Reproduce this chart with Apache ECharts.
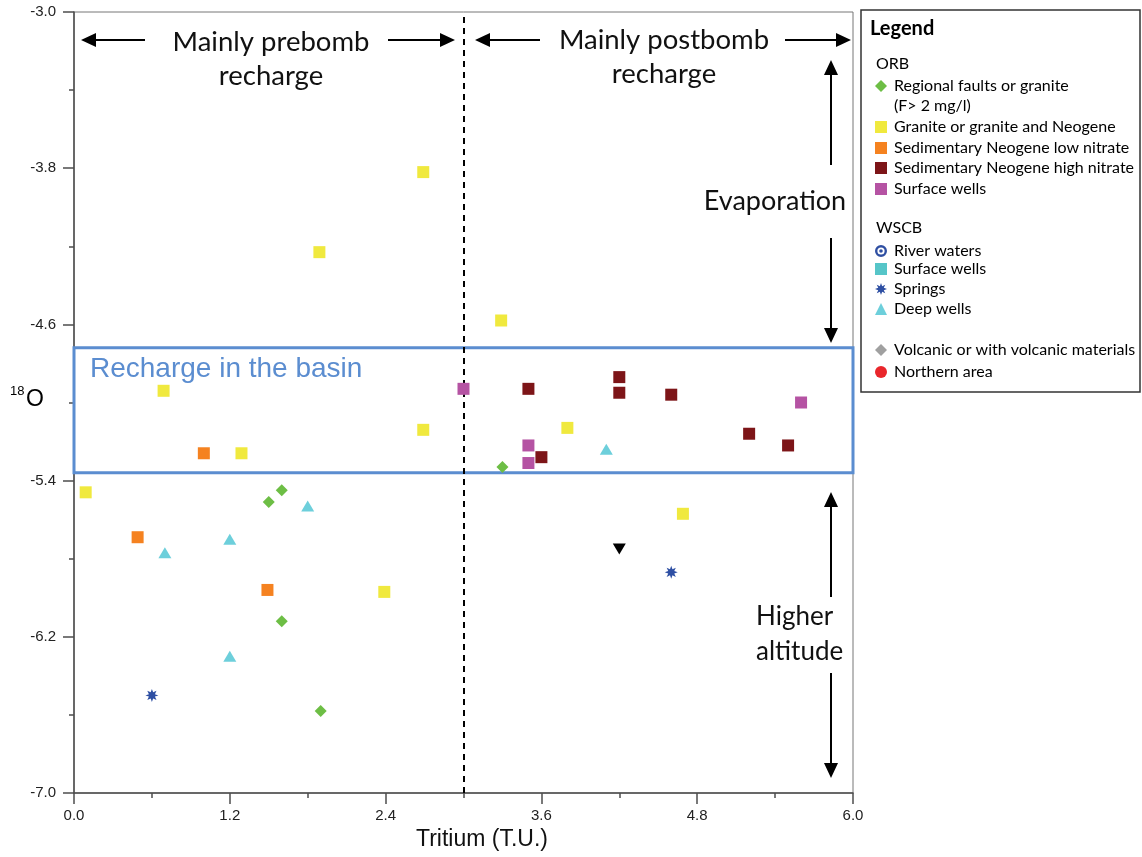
<!DOCTYPE html>
<html>
<head>
<meta charset="utf-8">
<script src="https://cdn.jsdelivr.net/npm/echarts@6/dist/echarts.min.js"></script>
<style>
  html, body { margin: 0; padding: 0; background: #fff; }
  #chart { width: 1142px; height: 857px; }
</style>
</head>
<body>
<div id="chart"></div>
<script>
// Tritium content vs. oxygen-18 of groundwater samples (ORB and WSCB basins)

// Axis ticks
const xTicks = [0.0, 1.2, 2.4, 3.6, 4.8, 6.0];
const yTicks = [-7.0, -6.2, -5.4, -4.6, -3.8, -3.0];
const yMinorTicks = [-6.6, -5.8, -5.0, -4.2, -3.4];

// ORB samples: [tritium (T.U.), 18O]
const regionalFaults = [[3.3, -5.33], [1.6, -5.45], [1.5, -5.51], [1.6, -6.12], [1.9, -6.58]];
const granite = [[2.69, -3.82], [1.89, -4.23], [3.29, -4.58], [0.69, -4.94], [2.69, -5.14],
                 [1.29, -5.26], [3.8, -5.13], [0.09, -5.46], [4.69, -5.57], [2.39, -5.97]];
const sedLowNitrate = [[1.0, -5.26], [0.49, -5.69], [1.49, -5.96]];
const sedHighNitrate = [[3.5, -4.93], [4.2, -4.87], [4.2, -4.95], [4.6, -4.96],
                        [5.2, -5.16], [5.5, -5.22], [3.6, -5.28]];
const orbSurfaceWells = [[3.0, -4.93], [5.6, -5.0], [3.5, -5.22], [3.5, -5.31]];

// WSCB samples
const riverWaters = [];
const wscbSurfaceWells = [];
const springs = [[0.6, -6.5], [4.6, -5.87]];
const deepWells = [[4.1, -5.24], [1.8, -5.53], [1.2, -5.70], [0.7, -5.77], [1.2, -6.30]];

// Other groups
const volcanic = [];
const northernArea = [];
const unclassified = [[4.2, -5.75]];

// Reference features
const prePostBoundary = 3.0;            // T.U.
const basinRechargeBand = [-4.72, -5.36]; // 18O range

// ---- symbols ----
function starPath(points, rOuter, rInner) {
  let d = '';
  for (let i = 0; i < points * 2; i++) {
    const r = i % 2 === 0 ? rOuter : rInner;
    const a = Math.PI * i / points - Math.PI / 2;
    d += (i === 0 ? 'M' : 'L') + (r * Math.cos(a)).toFixed(3) + ',' + (r * Math.sin(a)).toFixed(3);
  }
  return 'path://' + d + 'Z';
}
const asterisk = starPath(8, 10, 5);
const ring = 'path://M0,-10A10,10,0,1,1,0,10A10,10,0,1,1,0,-10Z' +
             'M0,-6A6,6,0,1,0,0,6A6,6,0,1,0,0,-6Z' +
             'M0,-3A3,3,0,1,1,0,3A3,3,0,1,1,0,-3Z';

const seriesDefs = [
  { name: 'Regional faults or granite (F> 2 mg/l)', data: regionalFaults, symbol: 'diamond', size: 12, color: '#6dbe45' },
  { name: 'Granite or granite and Neogene', data: granite, symbol: 'rect', size: 12, color: '#f0e93e' },
  { name: 'Sedimentary Neogene low nitrate', data: sedLowNitrate, symbol: 'rect', size: 12, color: '#f58220' },
  { name: 'Sedimentary Neogene high nitrate', data: sedHighNitrate, symbol: 'rect', size: 12, color: '#7d1518' },
  { name: 'Surface wells (ORB)', data: orbSurfaceWells, symbol: 'rect', size: 12, color: '#b553a3' },
  { name: 'River waters', data: riverWaters, symbol: ring, size: 12, color: '#2f4fa2' },
  { name: 'Surface wells (WSCB)', data: wscbSurfaceWells, symbol: 'rect', size: 12, color: '#56c5c8' },
  { name: 'Springs', data: springs, symbol: asterisk, size: 13, color: '#2e4fa3' },
  { name: 'Deep wells', data: deepWells, symbol: 'triangle', size: [13, 11], color: '#6dcfdb' },
  { name: 'Volcanic or with volcanic materials', data: volcanic, symbol: 'diamond', size: 12, color: '#a0a0a0' },
  { name: 'Northern area', data: northernArea, symbol: 'circle', size: 12, color: '#e9262b' },
  { name: 'Other', data: unclassified, symbol: 'triangle', size: [13, 11], color: '#000000', rotate: 180 }
];

// legend rows: series name, displayed text, row centre (px)
const legendRows = [
  ['Regional faults or granite (F> 2 mg/l)', 'Regional faults or granite', 86],
  ['Granite or granite and Neogene', 'Granite or granite and Neogene', 127],
  ['Sedimentary Neogene low nitrate', 'Sedimentary Neogene low nitrate', 148],
  ['Sedimentary Neogene high nitrate', 'Sedimentary Neogene high nitrate', 168],
  ['Surface wells (ORB)', 'Surface wells', 189],
  ['River waters', 'River waters', 251],
  ['Surface wells (WSCB)', 'Surface wells', 269],
  ['Springs', 'Springs', 289],
  ['Deep wells', 'Deep wells', 309],
  ['Volcanic or with volcanic materials', 'Volcanic or with volcanic materials', 350],
  ['Northern area', 'Northern area', 372]
];

const legends = legendRows.map(([name, text, cy]) => ({
  data: [name],
  left: 875,
  top: cy - 10,
  padding: 0,
  itemWidth: 12,
  itemHeight: 12,
  selectedMode: false,
  formatter: () => text,
  textStyle: { fontFamily: 'Lato', fontSize: 16, color: '#000', lineHeight: 20, padding: [0, 0, 0, 2] }
}));

const series = seriesDefs.map(d => ({
  name: d.name,
  type: 'scatter',
  data: d.data,
  symbol: d.symbol,
  symbolSize: d.size,
  symbolRotate: d.rotate || 0,
  itemStyle: { color: d.color, opacity: 1 },
  z: 5
}));

// dashed prebomb/postbomb boundary and basin recharge band
series.push({
  type: 'scatter',
  data: [],
  silent: true,
  z: 3,
  markLine: {
    silent: true,
    symbol: 'none',
    label: { show: false },
    lineStyle: { color: '#000', width: 2, type: [6, 5] },
    data: [{ xAxis: prePostBoundary }]
  },
  markArea: {
    silent: true,
    itemStyle: { color: 'rgba(0,0,0,0)', borderColor: '#5b8dd0', borderWidth: 3 },
    label: { show: false },
    data: [[{ xAxis: xTicks[0], yAxis: basinRechargeBand[0] },
            { xAxis: xTicks[xTicks.length - 1], yAxis: basinRechargeBand[1] }]]
  }
});

// ---- annotations ----
function arrow(x1, y1, x2, y2) {
  const dx = x2 - x1, dy = y2 - y1, len = Math.hypot(dx, dy);
  const ux = dx / len, uy = dy / len, hl = 15, hw = 7;
  const bx = x2 - ux * hl, by = y2 - uy * hl;
  return [
    { type: 'line', z: 50, shape: { x1: x1, y1: y1, x2: bx, y2: by }, style: { stroke: '#000', lineWidth: 2 } },
    { type: 'polygon', z: 50, shape: { points: [[x2, y2], [bx - uy * hw, by + ux * hw], [bx + uy * hw, by - ux * hw]] }, style: { fill: '#000' } }
  ];
}
function label(text, x, y, size, opts) {
  opts = opts || {};
  return {
    type: 'text', z: 50, x: x, y: y,
    style: {
      text: text,
      font: (opts.weight || 'normal') + ' ' + size + 'px ' + (opts.family || 'Lato'),
      fill: opts.color || '#111',
      align: opts.align || 'center',
      verticalAlign: 'middle'
    }
  };
}

const graphic = [
  // legend frame
  { type: 'rect', z: 1, shape: { x: 861, y: 10, width: 279, height: 382 },
    style: { fill: '#fff', stroke: '#333', lineWidth: 1.5 } },
  label('Legend', 870, 29, 20, { weight: 'bold', align: 'left', color: '#000' }),
  label('ORB', 876, 64, 16, { align: 'left', color: '#000' }),
  label('(F> 2 mg/l)', 894, 106, 16, { align: 'left', color: '#000' }),
  label('WSCB', 876, 228, 16, { align: 'left', color: '#000' }),

  // region titles
  label('Mainly prebomb', 271, 42, 27.5),
  label('recharge', 271, 76, 27.5),
  label('Mainly postbomb', 664, 40, 27.5),
  label('recharge', 664, 74, 27.5),
  ...arrow(145, 40, 81, 40),
  ...arrow(388, 40, 455, 40),
  ...arrow(540, 40, 475, 40),
  ...arrow(785, 40, 851, 40),

  // vertical trends
  ...arrow(831, 165, 831, 60),
  label('Evaporation', 775, 201, 27),
  ...arrow(831, 238, 831, 343),
  ...arrow(831, 597, 831, 492),
  label('Higher', 756, 617, 26, { align: 'left' }),
  label('altitude', 756, 652, 26, { align: 'left' }),
  ...arrow(831, 673, 831, 778),

  // band title
  label('Recharge in the basin', 90, 369, 28, { align: 'left', family: 'Liberation Sans', color: '#5b8dd0' }),

  // axis titles
  label('18', 10, 391, 13, { align: 'left', family: 'Liberation Sans', color: '#000' }),
  label('O', 26, 400, 23, { align: 'left', family: 'Liberation Sans', color: '#000' }),
  label('Tritium (T.U.)', 482, 840, 23, { family: 'Liberation Sans', color: '#111' })
];

const axisColor = '#4d4d4d';
const tickLabel = { fontFamily: 'Liberation Sans', fontSize: 15, color: '#222' };

const option = {
  backgroundColor: '#fff',
  animation: false,
  grid: { left: 74, right: 289, top: 12, bottom: 64, show: true, borderColor: '#777', borderWidth: 1, backgroundColor: 'transparent' },
  xAxis: {
    type: 'value',
    min: xTicks[0],
    max: xTicks[xTicks.length - 1],
    interval: xTicks[1] - xTicks[0],
    axisLine: { lineStyle: { color: axisColor, width: 1.5 } },
    axisTick: { length: 11, lineStyle: { color: axisColor, width: 1.5 } },
    minorTick: { show: true, splitNumber: 2, length: 5, lineStyle: { color: axisColor, width: 1.5 } },
    splitLine: { show: false },
    axisLabel: Object.assign({ margin: 15, formatter: v => v.toFixed(1) }, tickLabel)
  },
  yAxis: [
    {
      type: 'value',
      min: yTicks[0],
      max: yTicks[yTicks.length - 1],
      position: 'left',
      axisLine: { lineStyle: { color: axisColor, width: 1.5 } },
      axisTick: { length: 11, customValues: yTicks, lineStyle: { color: axisColor, width: 1.5 } },
      splitLine: { show: false },
      axisLabel: Object.assign({ margin: 18, customValues: yTicks, formatter: v => v.toFixed(1) }, tickLabel)
    },
    {
      type: 'value',
      min: yTicks[0],
      max: yTicks[yTicks.length - 1],
      position: 'left',
      offset: 0,
      axisLine: { show: false },
      axisTick: { length: 5, customValues: yMinorTicks, lineStyle: { color: axisColor, width: 1.5 } },
      splitLine: { show: false },
      axisLabel: { show: false }
    }
  ],
  legend: legends,
  graphic: graphic,
  series: series
};

const chart = echarts.init(document.getElementById('chart'));
chart.setOption(option);
</script>
</body>
</html>
